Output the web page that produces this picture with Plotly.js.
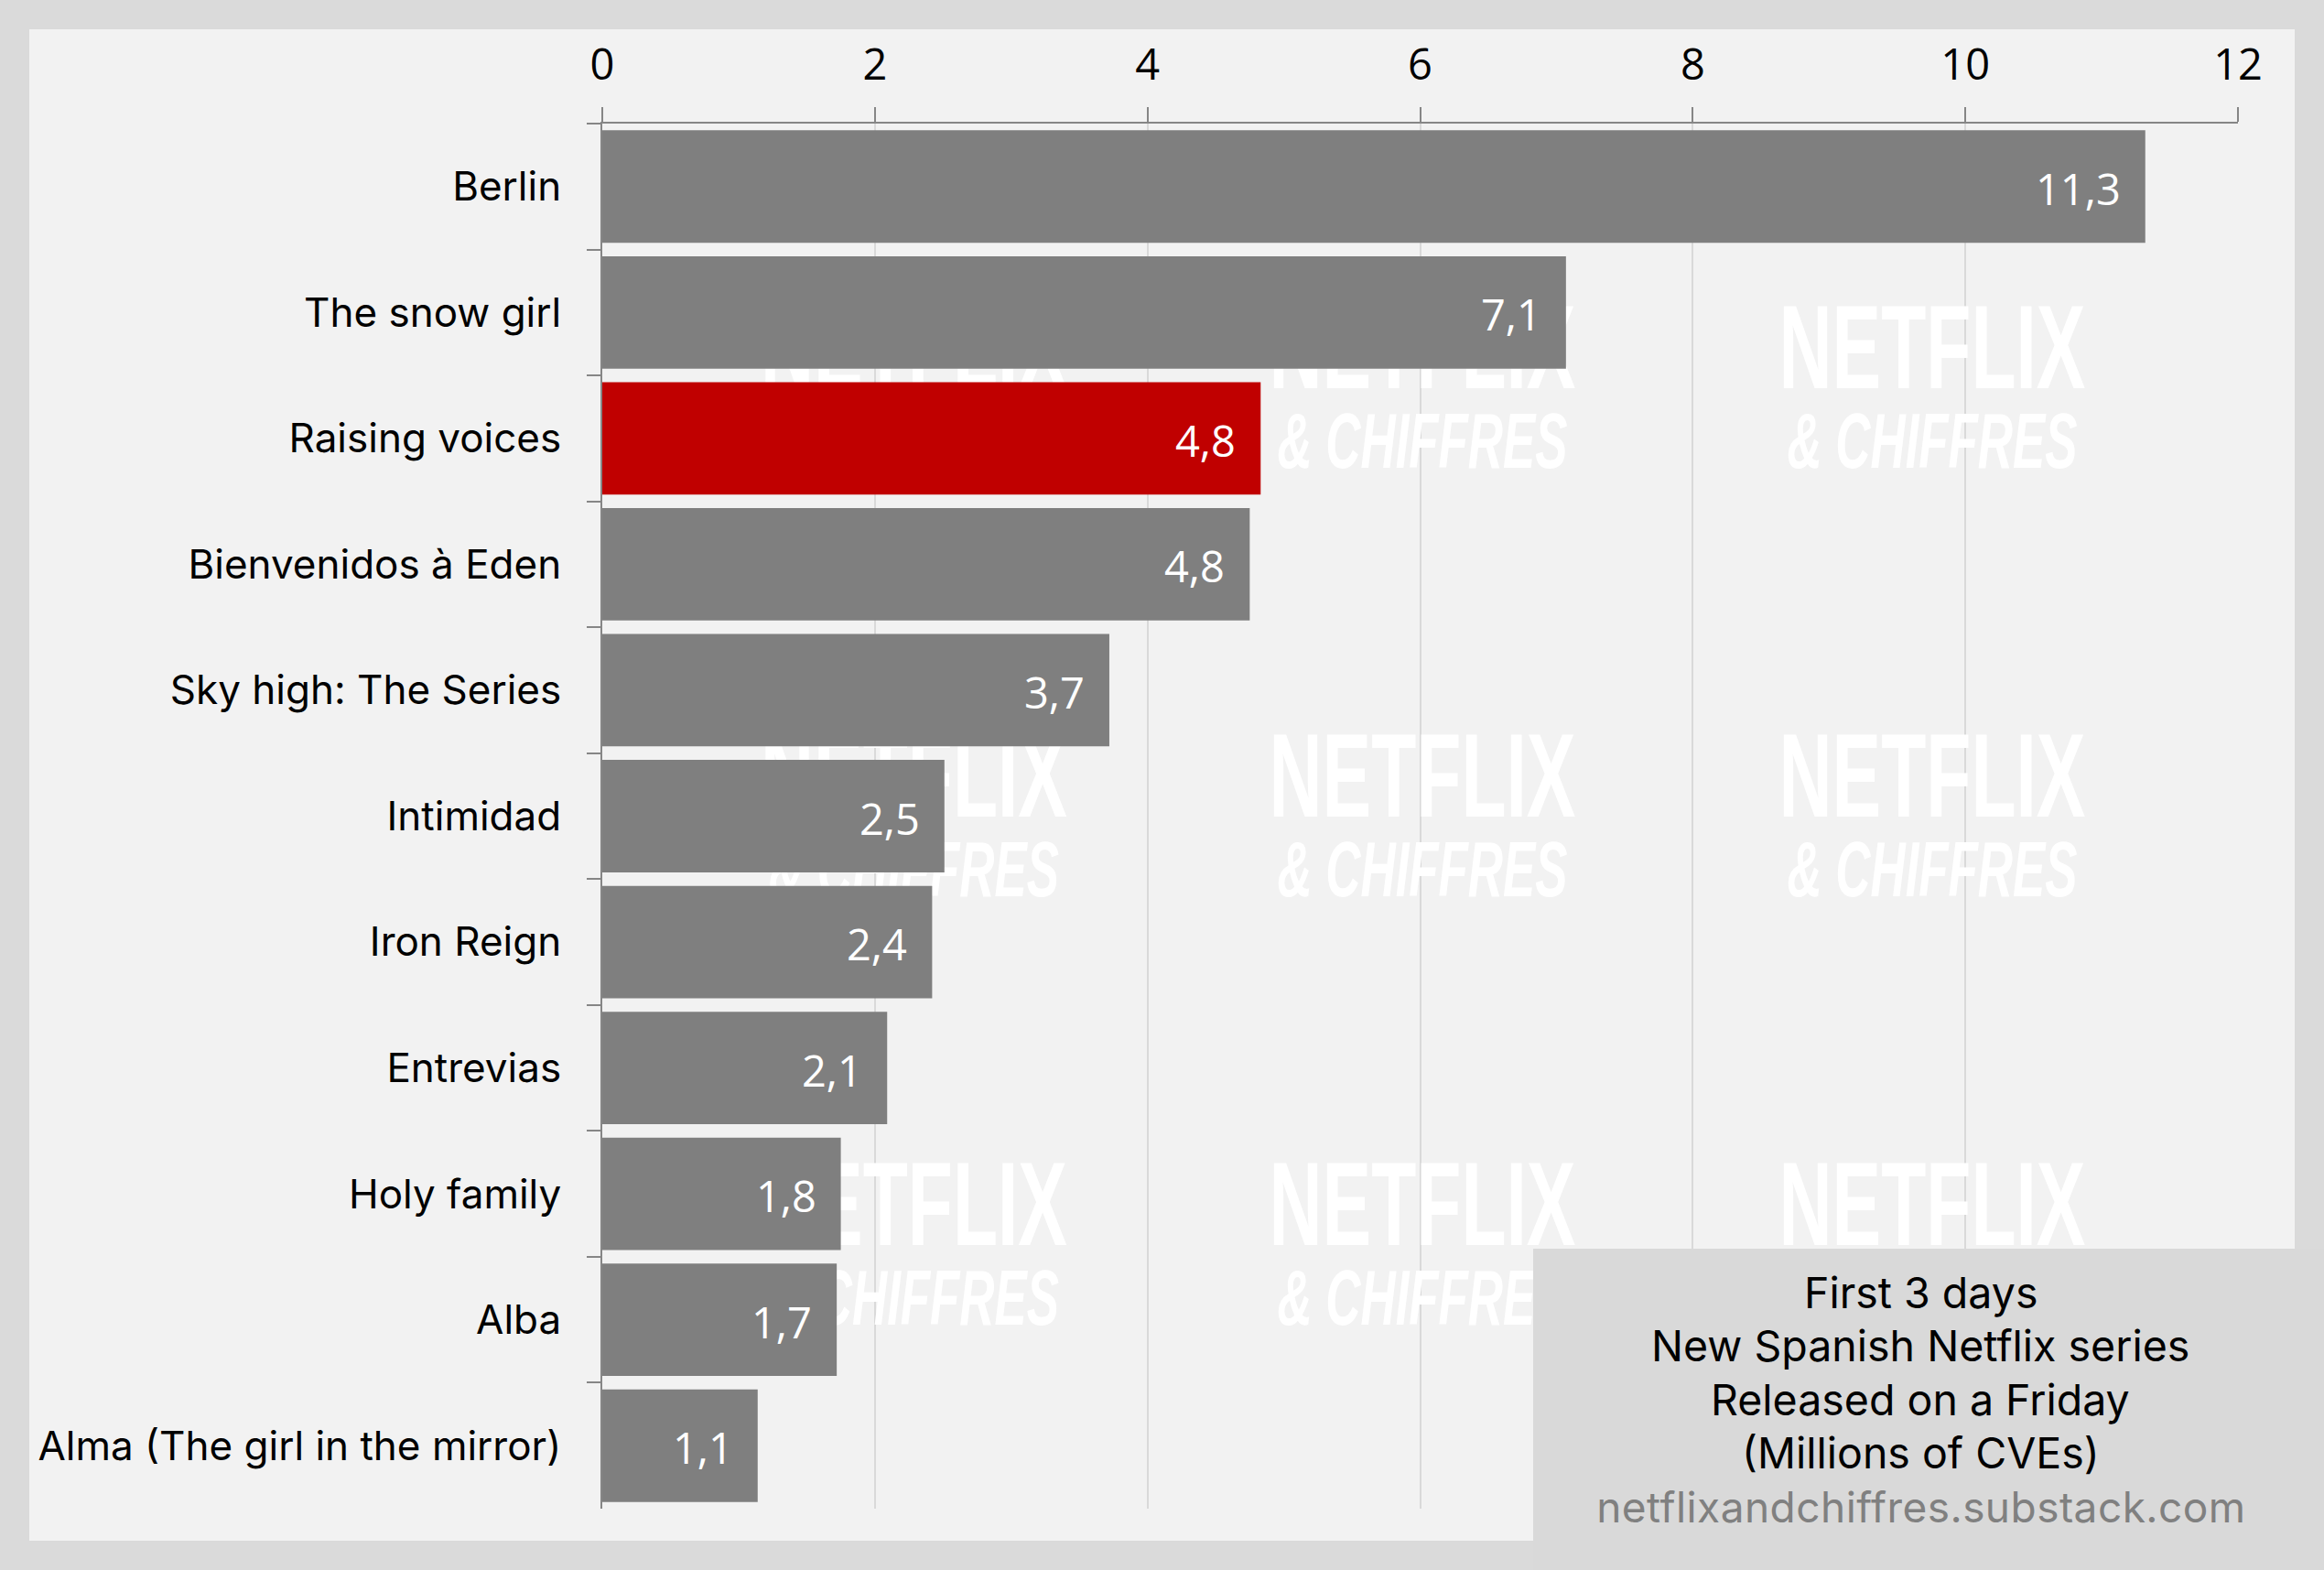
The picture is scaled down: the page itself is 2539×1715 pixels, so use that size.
<!DOCTYPE html>
<html><head><meta charset="utf-8">
<script src="https://cdn.plot.ly/plotly-3.0.1.min.js"></script>
<style>html,body{margin:0;padding:0;background:#dadada}</style></head>
<body><div id="chart" style="width:2539px;height:1715px"></div>
<script>
const titles = ["Berlin","The snow girl","Raising voices","Bienvenidos à Eden","Sky high: The Series","Intimidad","Iron Reign","Entrevias","Holy family","Alba","Alma (The girl in the mirror)"];
const values = [11.32,7.07,4.83,4.75,3.72,2.51,2.42,2.09,1.75,1.72,1.14];
const valueLabels = ["11,3","7,1","4,8","4,8","3,7","2,5","2,4","2,1","1,8","1,7","1,1"];
const barColors = ["#7f7f7f","#7f7f7f","#c00000","#7f7f7f","#7f7f7f","#7f7f7f","#7f7f7f","#7f7f7f","#7f7f7f","#7f7f7f","#7f7f7f"];
const xTicks = [0,2,4,6,8,10,12];
const infoLines = ["First 3 days","New Spanish Netflix series","Released on a Friday","(Millions of CVEs)"];
const sourceLine = "netflixandchiffres.substack.com";

const W=2539,H=1715,L=658,R=2445,T=135,B=1648;
const FONT='Inter, "Noto Sans", sans-serif';
const NUM='"Open Sans", Inter, sans-serif';
const WM='"Liberation Sans Narrow","Liberation Sans",sans-serif';
const dx=p=>(p-L)/(R-L), dy=p=>(B-p)/(B-T);
const ux=p=>dx(p)*12, uy=p=>(p-T)/(B-T)*11-0.5;
const wmX=[998.5,1554,2111], wmY=[0,468,936];
const shapes=[
 {type:'rect',layer:'below',xref:'paper',yref:'paper',x0:dx(32),x1:dx(2507),y0:dy(1683),y1:dy(32),fillcolor:'#f2f2f2',line:{width:0}}
];
wmX.forEach(cx=>wmY.forEach(off=>{
 shapes.push({type:'rect',layer:'between',xref:'x',yref:'y',x0:ux(cx-260),x1:ux(cx+260),y0:uy(287+off),y1:uy(447+off),fillcolor:'rgba(0,0,0,0)',line:{width:0},
  label:{text:'NETFLIX',textposition:'middle center',font:{family:WM,size:130,color:'#ffffff',weight:700}}});
 shapes.push({type:'rect',layer:'between',xref:'x',yref:'y',x0:ux(cx-260),x1:ux(cx+260),y0:uy(405+off),y1:uy(540+off),fillcolor:'rgba(0,0,0,0)',line:{width:0},
  label:{text:'& CHIFFRES',textposition:'middle center',font:{family:WM,size:86,color:'#ffffff',weight:700,style:'italic'}}});
}));
shapes.push({type:'rect',layer:'above',xref:'paper',yref:'paper',x0:dx(1675),x1:dx(W),y0:dy(H),y1:dy(1364),fillcolor:'#d9d9d9',line:{width:0}});

const annotations=values.map((v,i)=>({x:v,y:titles[i],xref:'x',yref:'y',text:valueLabels[i],showarrow:false,xanchor:'right',xshift:-25,yshift:-2,font:{family:NUM,size:47,color:'#ffffff'}}));
infoLines.forEach((t,i)=>annotations.push({xref:'paper',yref:'paper',x:dx(2098),y:dy(1412+i*58.3),text:t,showarrow:false,xanchor:'center',yanchor:'middle',font:{family:FONT,size:46.5,color:'#000000'}}));
annotations.push({xref:'paper',yref:'paper',x:dx(2098),y:dy(1646),text:sourceLine,showarrow:false,xanchor:'center',yanchor:'middle',font:{family:FONT,size:46,color:'#808080'}});

Plotly.newPlot('chart',[{type:'bar',orientation:'h',y:titles,x:values,marker:{color:barColors,line:{width:0}},width:0.893,hoverinfo:'skip'}],{
 width:W,height:H,margin:{l:L,r:W-R,t:T,b:H-B,pad:0},paper_bgcolor:'#dadada',plot_bgcolor:'rgba(0,0,0,0)',showlegend:false,
 xaxis:{side:'top',range:[0,12],tickvals:xTicks,ticks:'outside',ticklen:16,tickwidth:2,tickcolor:'#868686',showline:true,linecolor:'#868686',linewidth:2,showgrid:true,gridcolor:'#d9d9d9',gridwidth:2,zeroline:false,tickfont:{family:NUM,size:47,color:'#000000'},ticklabelstandoff:11},
 yaxis:{type:'category',range:[10.5,-0.5],tickson:'boundaries',ticks:'outside',ticklen:15,tickwidth:2,tickcolor:'#868686',showline:true,linecolor:'#868686',linewidth:2,showgrid:false,zeroline:false,tickfont:{family:FONT,size:44,color:'#000000'},ticklabelstandoff:34,automargin:false},
 shapes,annotations,font:{family:FONT}
},{displayModeBar:false,staticPlot:true}).then(()=>{
 document.querySelectorAll('text').forEach(t=>{
  if(t.textContent==='NETFLIX'){t.setAttribute('textLength',335);t.setAttribute('lengthAdjust','spacingAndGlyphs');}
  if(t.textContent==='& CHIFFRES'){t.setAttribute('textLength',317);t.setAttribute('lengthAdjust','spacingAndGlyphs');}
  if(t.textContent===sourceLine){t.setAttribute('textLength',709);t.setAttribute('lengthAdjust','spacing');}
 });
});
</script></body></html>
